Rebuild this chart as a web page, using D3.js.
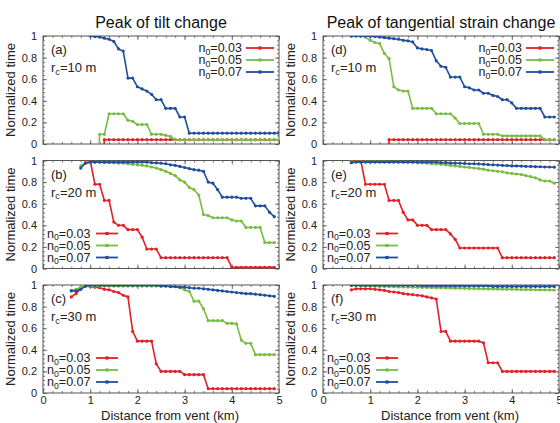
<!DOCTYPE html>
<html>
<head>
<meta charset="utf-8">
<script src="https://cdn.jsdelivr.net/npm/d3@7"></script>
<style>
  body { margin: 0; background: #fff; }
  svg { display: block; font-family: "Liberation Sans", Arial, sans-serif; }
</style>
</head>
<body>
<svg id="chart" width="560" height="423"></svg>
<script>
// distance from vent (km), shared by every series
const distance = [0.6, 0.7, 0.8, 0.9, 1.0, 1.1, 1.2, 1.3, 1.4, 1.5, 1.6, 1.7, 1.8, 1.9, 2.0,
    2.1, 2.2, 2.3, 2.4, 2.5, 2.6, 2.7, 2.8, 2.9, 3.0, 3.1, 3.2, 3.3, 3.4, 3.5, 3.6, 3.7, 3.8,
    3.9, 4.0, 4.1, 4.2, 4.3, 4.4, 4.5, 4.6, 4.7, 4.8, 4.9, 5.0];

const porosityLabels = ['0.03', '0.05', '0.07'];
const seriesColors = ['#e41f26', '#77bd41', '#1f4e9e'];
const columnTitles = ['Peak of tilt change', 'Peak of tangential strain change'];
const conduitRadii = ['10', '20', '30'];
const panelLetters = [['a', 'b', 'c'], ['d', 'e', 'f']];
const yTickValues = [0, 0.2, 0.4, 0.6, 0.8, 1];
const xTickValues = [0, 1, 2, 3, 4, 5];

// normalized time of the peak; null = not computed, -1 = no peak (falls below the axis)
// (a) tilt, rc = 10 m
const tiltRc10N003 = [null, null, null, null, null, null, -1, 0.04, 0.04, 0.04, 0.04, 0.04, 0.04,
    0.04, 0.04, 0.04, 0.04, 0.04, 0.04, 0.04, 0.04, 0.04, 0.04, 0.04, 0.04, 0.04, 0.04, 0.04,
    0.04, 0.04, 0.04, 0.04, 0.04, 0.04, 0.04, 0.04, 0.04, 0.04, 0.04, 0.04, 0.04, 0.04, 0.04,
    0.04, 0.04];
const tiltRc10N005 = [null, null, null, null, null, -1, 0.09, 0.09, 0.28, 0.28, 0.28, 0.28, 0.22,
    0.21, 0.18, 0.18, 0.18, 0.09, 0.09, 0.09, 0.08, 0.07, 0.04, 0.04, 0.04, 0.04, 0.04, 0.04,
    0.04, 0.04, 0.04, 0.04, 0.04, 0.04, 0.04, 0.04, 0.04, 0.04, 0.04, 0.04, 0.04, 0.04, 0.04,
    0.04, 0.04];
const tiltRc10N007 = [null, null, null, null, 1.0, 0.995, 0.99, 0.98, 0.97, 0.95, 0.88, 0.86,
    0.61, 0.61, 0.53, 0.51, 0.49, 0.46, 0.41, 0.41, 0.33, 0.33, 0.33, 0.25, 0.25, 0.1, 0.1, 0.1,
    0.1, 0.1, 0.1, 0.1, 0.1, 0.1, 0.1, 0.1, 0.1, 0.1, 0.1, 0.1, 0.1, 0.1, 0.1, 0.1, 0.1];

// (b) tilt, rc = 20 m
const tiltRc20N003 = [null, null, null, 1.0, 1.0, 0.78, 0.78, 0.63, 0.63, 0.43, 0.40, 0.40, 0.36,
    0.36, 0.36, 0.29, 0.18, 0.18, 0.18, 0.10, 0.10, 0.10, 0.10, 0.10, 0.10, 0.10, 0.10, 0.10,
    0.10, 0.10, 0.10, 0.10, 0.10, 0.10, 0.01, 0.01, 0.01, 0.01, 0.01, 0.01, 0.01, 0.01, 0.01,
    0.01, null];
const tiltRc20N005 = [null, null, 0.95, 0.98, 0.985, 0.985, 0.985, 0.98, 0.98, 0.98, 0.975, 0.975,
    0.97, 0.965, 0.96, 0.955, 0.95, 0.94, 0.93, 0.915, 0.90, 0.88, 0.86, 0.82, 0.80, 0.75, 0.73,
    0.68, 0.50, 0.49, 0.47, 0.47, 0.47, 0.47, 0.45, 0.44, 0.44, 0.38, 0.38, 0.38, 0.38, 0.24,
    0.24, 0.24, null];
const tiltRc20N007 = [null, null, 0.93, 0.975, 0.985, 0.985, 0.985, 0.985, 0.985, 0.985, 0.985,
    0.985, 0.985, 0.985, 0.985, 0.985, 0.985, 0.98, 0.978, 0.975, 0.97, 0.96, 0.955, 0.945, 0.935,
    0.925, 0.915, 0.91, 0.90, 0.80, 0.79, 0.73, 0.66, 0.66, 0.66, 0.66, 0.65, 0.65, 0.65, 0.58,
    0.58, 0.58, 0.52, 0.48, null];

// (c) tilt, rc = 30 m
const tiltRc30N003 = [0.89, 0.92, 0.97, 0.99, 0.985, 0.98, 0.975, 0.96, 0.955, 0.94, 0.93, 0.905,
    0.89, 0.57, 0.48, 0.48, 0.48, 0.48, 0.27, 0.20, 0.20, 0.20, 0.20, 0.20, 0.17, 0.17, 0.17,
    0.17, 0.17, 0.04, 0.04, 0.04, 0.04, 0.04, 0.04, 0.04, 0.04, 0.04, 0.04, 0.04, 0.04, 0.04,
    0.04, 0.04, null];
const tiltRc30N005 = [0.95, 0.96, 0.98, 0.99, 0.99, 0.99, 0.99, 0.99, 0.99, 0.99, 0.99, 0.99,
    0.99, 0.99, 0.99, 0.99, 0.99, 0.99, 0.99, 0.99, 0.99, 0.988, 0.985, 0.975, 0.955, 0.94, 0.85,
    0.85, 0.78, 0.67, 0.67, 0.67, 0.67, 0.645, 0.645, 0.64, 0.49, 0.46, 0.46, 0.355, 0.355,
    0.355, 0.355, 0.355, null];
const tiltRc30N007 = [0.945, 0.945, 0.96, 0.99, 0.997, 0.997, 0.997, 0.997, 0.997, 0.997, 0.997,
    0.997, 0.997, 0.997, 0.997, 0.997, 0.997, 0.997, 0.997, 0.99, 0.99, 0.985, 0.985, 0.98, 0.98,
    0.975, 0.97, 0.97, 0.965, 0.96, 0.955, 0.95, 0.945, 0.94, 0.935, 0.93, 0.925, 0.92, 0.92,
    0.915, 0.91, 0.905, 0.90, 0.895, null];

// (d) tangential strain, rc = 10 m
const strainRc10N003 = [null, null, null, null, null, null, null, -1, 0.04, 0.04, 0.04, 0.04,
    0.04, 0.04, 0.04, 0.04, 0.04, 0.04, 0.04, 0.04, 0.04, 0.04, 0.04, 0.04, 0.04, 0.04, 0.04,
    0.04, 0.04, 0.04, 0.04, 0.04, 0.04, 0.04, 0.04, 0.04, 0.04, 0.04, 0.04, 0.04, 0.04, 0.04,
    0.04, 0.04, null];
const strainRc10N005 = [1.0, 1.0, 1.0, 0.99, 0.96, 0.94, 0.93, 0.84, 0.79, 0.53, 0.50, 0.49, 0.49,
    0.33, 0.33, 0.33, 0.33, 0.33, 0.28, 0.28, 0.28, 0.28, 0.24, 0.19, 0.19, 0.19, 0.19, 0.19,
    0.09, 0.09, 0.09, 0.09, 0.075, 0.075, 0.075, 0.075, 0.075, 0.075, 0.075, 0.075, 0.075, 0.04,
    0.04, 0.04, null];
const strainRc10N007 = [1.0, 1.0, 1.0, 1.0, 0.997, 0.995, 0.99, 0.985, 0.98, 0.975, 0.97, 0.96,
    0.955, 0.945, 0.89, 0.88, 0.875, 0.865, 0.77, 0.72, 0.71, 0.62, 0.62, 0.62, 0.53, 0.52, 0.50,
    0.50, 0.47, 0.47, 0.45, 0.44, 0.41, 0.41, 0.38, 0.33, 0.33, 0.33, 0.33, 0.33, 0.33, 0.25,
    0.25, 0.25, null];

// (e) tangential strain, rc = 20 m
const strainRc20N003 = [1.0, 1.0, 1.0, 0.78, 0.78, 0.78, 0.78, 0.78, 0.63, 0.63, 0.63, 0.52, 0.45,
    0.45, 0.40, 0.40, 0.40, 0.36, 0.36, 0.36, 0.36, 0.32, 0.27, 0.19, 0.19, 0.19, 0.19, 0.19,
    0.19, 0.19, 0.19, 0.19, 0.10, 0.10, 0.10, 0.10, 0.10, 0.10, 0.10, 0.10, 0.10, 0.10, 0.10,
    0.10, null];
const strainRc20N005 = [0.99, 0.99, 0.99, 0.99, 0.99, 0.99, 0.99, 0.99, 0.988, 0.988, 0.987,
    0.986, 0.985, 0.984, 0.98, 0.978, 0.975, 0.97, 0.968, 0.965, 0.96, 0.955, 0.95, 0.945, 0.94,
    0.935, 0.93, 0.925, 0.92, 0.91, 0.905, 0.90, 0.895, 0.885, 0.88, 0.875, 0.87, 0.86, 0.85,
    0.84, 0.82, 0.81, 0.81, 0.79, null];
const strainRc20N007 = [0.98, 0.985, 0.985, 0.985, 0.985, 0.985, 0.985, 0.985, 0.985, 0.985,
    0.985, 0.985, 0.985, 0.985, 0.985, 0.985, 0.985, 0.985, 0.985, 0.98, 0.98, 0.978, 0.975,
    0.975, 0.972, 0.97, 0.97, 0.968, 0.965, 0.962, 0.96, 0.958, 0.955, 0.953, 0.95, 0.95, 0.948,
    0.946, 0.945, 0.943, 0.942, 0.94, 0.94, 0.938, null];

// (f) tangential strain, rc = 30 m
const strainRc30N003 = [0.955, 0.965, 0.965, 0.965, 0.965, 0.96, 0.955, 0.95, 0.94, 0.935, 0.93,
    0.92, 0.915, 0.91, 0.905, 0.90, 0.89, 0.88, 0.87, 0.57, 0.57, 0.48, 0.48, 0.48, 0.48, 0.48,
    0.48, 0.48, 0.465, 0.28, 0.28, 0.28, 0.20, 0.20, 0.20, 0.20, 0.20, 0.20, 0.20, 0.20, 0.20,
    0.20, 0.20, 0.20, null];
const strainRc30N005 = [0.995, 0.995, 0.99, 0.99, 0.99, 0.988, 0.987, 0.986, 0.985, 0.984, 0.983,
    0.982, 0.981, 0.98, 0.979, 0.978, 0.977, 0.976, 0.975, 0.974, 0.973, 0.972, 0.971, 0.97,
    0.969, 0.968, 0.967, 0.966, 0.965, 0.964, 0.963, 0.962, 0.961, 0.96, 0.96, 0.959, 0.958,
    0.957, 0.957, 0.956, 0.955, 0.955, 0.954, 0.953, null];
const strainRc30N007 = [0.997, 0.997, 0.997, 0.997, 0.997, 0.997, 0.997, 0.997, 0.997, 0.997,
    0.997, 0.997, 0.997, 0.997, 0.997, 0.992, 0.992, 0.992, 0.992, 0.992, 0.992, 0.992, 0.992,
    0.992, 0.992, 0.992, 0.992, 0.992, 0.992, 0.992, 0.987, 0.987, 0.987, 0.987, 0.987, 0.987,
    0.987, 0.987, 0.987, 0.987, 0.987, 0.987, 0.987, 0.987, null];

const panelSeries = [
    [[tiltRc10N003, tiltRc10N005, tiltRc10N007],
     [tiltRc20N003, tiltRc20N005, tiltRc20N007],
     [tiltRc30N003, tiltRc30N005, tiltRc30N007]],
    [[strainRc10N003, strainRc10N005, strainRc10N007],
     [strainRc20N003, strainRc20N005, strainRc20N007],
     [strainRc30N003, strainRc30N005, strainRc30N007]]
];

// layout
const colLeft = [43, 323];
const rowTop = [36, 160.5, 285];
const plotW = 236;
const plotH = 108;
const frameColor = '#555';

const svg = d3.select('#chart');

const x = d3.scaleLinear().domain([0, 5]).range([0, plotW]);
const y = d3.scaleLinear().domain([0, 1]).range([plotH, 0]);

const line = d3.line()
    .defined((d) => d.v !== null)
    .x((d) => x(d.d))
    .y((d) => y(d.v));

const yFormat = d3.format('~g');

function styleAxis(g) {
    g.select('.domain').remove();
    g.selectAll('.tick line').attr('stroke', frameColor).attr('stroke-width', 0.8);
    g.selectAll('.tick text').attr('fill', '#222').attr('font-size', 11)
        .attr('font-family', '"Liberation Sans", Arial, sans-serif');
}

function addSubscriptText(g, x0, y0, main, sub, rest, anchor, size) {
    const t = g.append('text')
        .attr('x', x0).attr('y', y0)
        .attr('font-size', size)
        .attr('fill', '#222')
        .attr('text-anchor', anchor);
    t.append('tspan').text(main);
    t.append('tspan').attr('font-size', size * 0.7).attr('dy', 2.5).text(sub);
    t.append('tspan').attr('dy', -2.5).text(rest);
    return t;
}

panelSeries.forEach((column, ci) => {

    svg.append('text')
        .attr('x', colLeft[ci] + plotW / 2)
        .attr('y', 28)
        .attr('text-anchor', 'middle')
        .attr('font-size', 16)
        .attr('fill', '#111')
        .text(columnTitles[ci]);

    column.forEach((series, ri) => {

        const g = svg.append('g')
            .attr('transform', `translate(${colLeft[ci]},${rowTop[ri]})`);

        const clipId = `clip-${ci}-${ri}`;
        g.append('clipPath').attr('id', clipId)
            .append('rect').attr('width', plotW).attr('height', plotH);

        // minor + major ticks on all four sides, pointing inward
        const yMinor = d3.range(0, 1.0001, 0.04);
        const xMinor = d3.range(0, 5.0001, 0.2);

        g.append('g').call(d3.axisLeft(y).tickValues(yMinor).tickSize(-2).tickFormat(''))
            .call(styleAxis);
        g.append('g').attr('transform', `translate(${plotW},0)`)
            .call(d3.axisRight(y).tickValues(yMinor).tickSize(-2).tickFormat('')).call(styleAxis);
        g.append('g').call(d3.axisTop(x).tickValues(xMinor).tickSize(-2).tickFormat(''))
            .call(styleAxis);
        g.append('g').attr('transform', `translate(0,${plotH})`)
            .call(d3.axisBottom(x).tickValues(xMinor).tickSize(-2).tickFormat('')).call(styleAxis);

        g.append('g')
            .call(d3.axisLeft(y).tickValues(yTickValues).tickSize(-4).tickPadding(6)
                .tickFormat(yFormat))
            .call(styleAxis);
        g.append('g').attr('transform', `translate(${plotW},0)`)
            .call(d3.axisRight(y).tickValues(yTickValues).tickSize(-4).tickFormat(''))
            .call(styleAxis);
        g.append('g')
            .call(d3.axisTop(x).tickValues(xTickValues).tickSize(-4).tickFormat(''))
            .call(styleAxis);
        g.append('g').attr('transform', `translate(0,${plotH})`)
            .call(d3.axisBottom(x).tickValues(xTickValues).tickSize(-4).tickPadding(3)
                .tickFormat(ri === 2 ? d3.format('d') : ''))
            .call(styleAxis);

        g.append('rect')
            .attr('width', plotW).attr('height', plotH)
            .attr('fill', 'none')
            .attr('stroke', frameColor)
            .attr('stroke-width', 1);

        // series: red, green, blue (blue on top)
        const plot = g.append('g').attr('clip-path', `url(#${clipId})`);
        series.forEach((vals, si) => {
            const pts = distance.map((d, i) => ({ d: d, v: vals[i] }));
            plot.append('path')
                .datum(pts)
                .attr('fill', 'none')
                .attr('stroke', seriesColors[si])
                .attr('stroke-width', 1.6)
                .attr('stroke-linejoin', 'round')
                .attr('d', line);
            plot.selectAll(null)
                .data(pts.filter((p) => p.v !== null && p.v >= 0))
                .enter().append('circle')
                .attr('cx', (p) => x(p.d))
                .attr('cy', (p) => y(p.v))
                .attr('r', 1.6)
                .attr('fill', seriesColors[si]);
        });

        // panel letter and conduit radius
        g.append('text')
            .attr('x', 8).attr('y', 18)
            .attr('font-size', 13).attr('fill', '#222')
            .text(`(${panelLetters[ci][ri]})`);
        addSubscriptText(g, 8, 36, 'r', 'c', `=${conduitRadii[ri]} m`, 'start', 13);

        // legend: top-right in the first row, bottom-left otherwise
        porosityLabels.forEach((lab, si) => {
            let ly, tx, lx0, lx1, anchor;
            if (ri === 0) {
                ly = 12 + si * 12;
                tx = 199; lx0 = 203; lx1 = 231; anchor = 'end';
            } else {
                ly = plotH - 35 + si * 12;
                tx = 4; lx0 = 53; lx1 = 75; anchor = 'start';
            }
            addSubscriptText(g, tx, ly + 4, 'n', '0', `=${lab}`, anchor, 12.5);
            g.append('line')
                .attr('x1', lx0).attr('x2', lx1)
                .attr('y1', ly).attr('y2', ly)
                .attr('stroke', seriesColors[si]).attr('stroke-width', 1.8);
            g.append('rect')
                .attr('x', (lx0 + lx1) / 2 - 1.6).attr('y', ly - 1.6)
                .attr('width', 3.2).attr('height', 3.2)
                .attr('fill', seriesColors[si]);
        });

        // y axis title
        g.append('text')
            .attr('transform', `translate(${-28},${plotH / 2}) rotate(-90)`)
            .attr('text-anchor', 'middle')
            .attr('font-size', 13).attr('fill', '#222')
            .text('Normalized time');

        if (ri === 2) {
            g.append('text')
                .attr('x', plotW / 2 + 9).attr('y', plotH + 27)
                .attr('text-anchor', 'middle')
                .attr('font-size', 13).attr('fill', '#222')
                .text('Distance from vent (km)');
        }
    });
});
</script>
</body>
</html>
